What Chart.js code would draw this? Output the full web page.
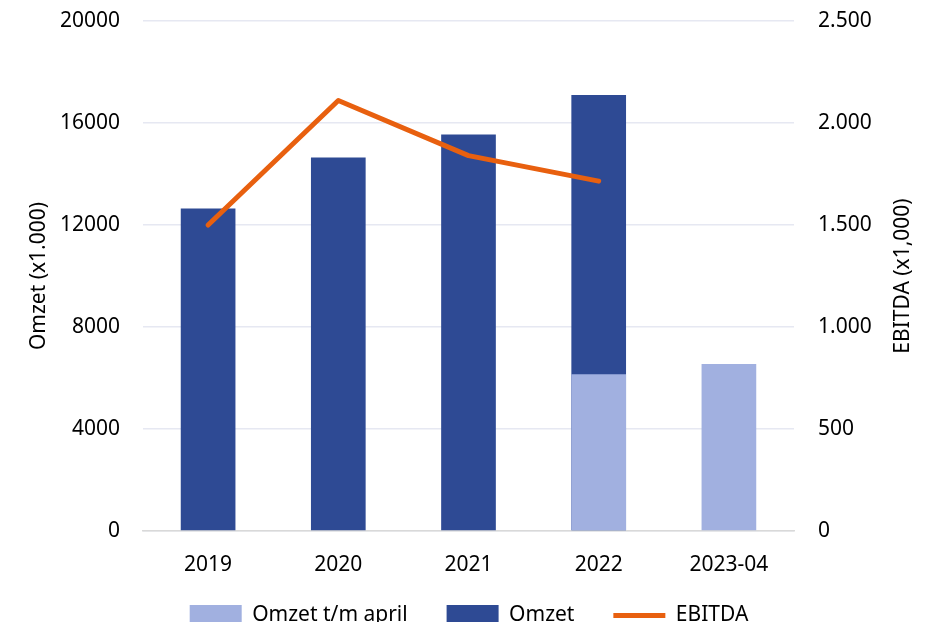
<!DOCTYPE html>
<html>
<head>
<meta charset="utf-8">
<script src="https://cdn.jsdelivr.net/npm/chart.js@4"></script>
<style>
  html, body { margin: 0; padding: 0; overflow: hidden; background: #fff; }
  #wrap { width: 938px; height: 640px; }
</style>
</head>
<body>
<div id="wrap"><canvas id="chart"></canvas></div>
<script>
var years = ['2019', '2020', '2021', '2022', '2023-04'];
var omzetApril = [null, null, null, 6150, 6550];
var omzet = [12650, 14650, 15550, 17100, null];
var ebitda = [1500, 2110, 1840, 1715, null];

var font = { family: 'Noto Sans', size: 21 };

// right axis title reads bottom-to-top, like the left one
const rightTitle = {
    id: 'rightTitle',
    afterDraw(chart) {
        const ctx = chart.ctx;
        const area = chart.chartArea;
        ctx.save();
        ctx.translate(903, (area.top + area.bottom) / 2);
        ctx.rotate(-Math.PI / 2);
        ctx.font = '21px "Noto Sans"';
        ctx.fillStyle = '#000';
        ctx.textAlign = 'center';
        ctx.textBaseline = 'middle';
        ctx.fillText('EBITDA (x1,000)', 0, 0);
        ctx.restore();
    }
};

const data = {
    labels: years,
    datasets: [{
        label: 'Omzet t/m april  ',
        data: omzetApril,
        backgroundColor: '#A1B0E0',
        pointStyle: 'rect',
        order: 1,
        yAxisID: 'y'
    }, {
        label: 'Omzet  ',
        data: omzet,
        backgroundColor: '#2E4A94',
        pointStyle: 'rect',
        order: 2,
        yAxisID: 'y'
    }, {
        type: 'line',
        label: 'EBITDA',
        data: ebitda,
        borderColor: '#E8600F',
        backgroundColor: '#E8600F',
        borderWidth: 5,
        borderCapStyle: 'round',
        borderJoinStyle: 'round',
        pointRadius: 0,
        pointStyle: 'line',
        tension: 0,
        order: 0,
        yAxisID: 'y1'
    }]
};

const config = {
    type: 'bar',
    data: data,
    options: {
        responsive: true,
        maintainAspectRatio: false,
        animation: false,
        barPercentage: 0.42,
        categoryPercentage: 1,
        layout: { padding: { top: 21, left: 0, right: 0, bottom: 4 } },
        plugins: {
            tooltip: { enabled: false },
            legend: {
                position: 'bottom',
                labels: {
                    font: font,
                    color: '#000',
                    usePointStyle: true,
                    pointStyleWidth: 52,
                    padding: 28,
                    sort: (a, b) => a.datasetIndex - b.datasetIndex
                }
            }
        },
        scales: {
            x: {
                stacked: true,
                grid: { display: false },
                border: { display: true, color: '#D9D9D9', width: 1.5 },
                ticks: { font: font, color: '#000', padding: 13, maxRotation: 0 },
                afterFit: s => { s.height = 46; }
            },
            y: {
                position: 'left',
                min: 0,
                max: 20000,
                grid: { color: '#E6E8F2', lineWidth: 1.5, drawTicks: false },
                border: { display: false },
                ticks: {
                    stepSize: 4000,
                    font: font,
                    color: '#000',
                    padding: 23,
                    callback: v => String(v)
                },
                title: {
                    display: true,
                    text: 'Omzet (x1.000)',
                    font: font,
                    color: '#000',
                    padding: { top: 26, bottom: 0 }
                },
                afterFit: s => { s.width = 143; s.paddingTop = 0; s.paddingBottom = 0; }
            },
            y1: {
                position: 'right',
                min: 0,
                max: 2500,
                grid: { display: false, drawTicks: false },
                border: { display: false },
                ticks: {
                    stepSize: 500,
                    font: font,
                    color: '#000',
                    padding: 24,
                    callback: v => String(v).replace(/\B(?=(\d{3})+(?!\d))/g, '.')
                },
                afterFit: s => { s.width = 144; s.paddingTop = 0; s.paddingBottom = 0; }
            }
        }
    },
    plugins: [rightTitle]
};

var myChart = new Chart(document.getElementById('chart'), config);
</script>
</body>
</html>
